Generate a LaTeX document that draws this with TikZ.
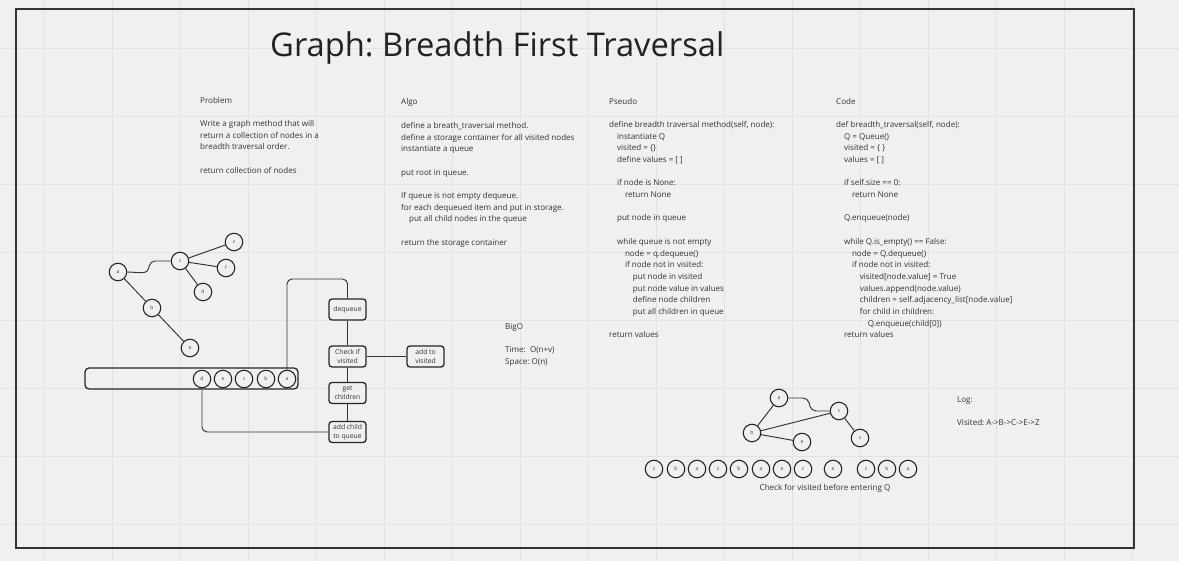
\documentclass[tikz,border=0pt]{standalone}
\usepackage{fontspec}
\setmainfont{Open Sans}
\frenchspacing
\definecolor{bgc}{RGB}{240,240,240}
\definecolor{gridc}{RGB}{226,226,226}
\definecolor{ink}{RGB}{51,51,51}
\definecolor{titlec}{RGB}{34,34,34}
\newcommand\myind[1]{\hspace*{#1\dimexpr 7.9pt\relax}}
\newcommand\blk[1]{\parbox[t]{330pt}{\fontsize{8.05}{11.67}\selectfont #1}}
\tikzset{
  edge/.style={draw=ink, line width=0.95pt},
  vtx/.style={circle, draw=black!85, line width=1.1pt, fill=bgc, minimum size=17.5pt, inner sep=0pt, font=\fontsize{5}{5}\selectfont, text=black!75},
  stepbox/.style={draw=black!85, line width=1.3pt, rounded corners=3pt, fill=bgc, minimum width=37pt, minimum height=21pt, inner sep=1pt, align=center, font=\fontsize{6.8}{8.6}\selectfont, text=ink},
  txt/.style={anchor=base west, inner sep=0pt, text=ink},
}
\begin{document}
\begin{tikzpicture}[x=1pt,y=-1pt]
\useasboundingbox (0,0) rectangle (1179,561);
\fill[bgc] (0,0) rectangle (1179,561);
% grid
\foreach \gx in {44,112,...,1179} \draw[gridc, line width=0.8pt] (\gx,0) -- (\gx,561);
\foreach \gy in {48,116,...,561} \draw[gridc, line width=0.8pt] (0,\gy) -- (1179,\gy);
% frame
\draw[black!80, line width=1.3pt] (16,9) rectangle (1134,548);
% title
\node[txt, text=titlec, font=\fontsize{32.7}{36}\selectfont] (title) at (270,57) {Graph: Breadth First Traversal};

% text blocks
\node[txt] (problem) at (200,103.3) {\blk{Problem\\ \mbox{}\\
Write a graph method that will\\
return a collection of nodes in a\\
breadth traversal order.\\ \mbox{}\\
return collection of nodes}};

\node[txt] (algo) at (401,105) {\blk{Algo\\ \mbox{}\\
define a breath\_traversal method.\\
define a storage container for all visited nodes\\
instantiate a queue\\ \mbox{}\\
put root in queue.\\ \mbox{}\\
If queue is not empty dequeue.\\
for each dequeued item and put in storage.\\
\myind{1}put all child nodes in the queue\\ \mbox{}\\
return the storage container}};

\node[txt] (pseudo) at (609,104.3) {\blk{Pseudo\\ \mbox{}\\
define breadth traversal method(self, node):\\
\myind{1}instantiate Q\\
\myind{1}visited = \{\}\\
\myind{1}define values = [ ]\\ \mbox{}\\
\myind{1}if node is None:\\
\myind{2}return None\\ \mbox{}\\
\myind{1}put node in queue\\ \mbox{}\\
\myind{1}while queue is not empty\\
\myind{2}node = q.dequeue()\\
\myind{2}if node not in visited:\\
\myind{3}put node in visited\\
\myind{3}put node value in values\\
\myind{3}define node children\\
\myind{3}put all children in queue\\ \mbox{}\\
return values}};

\node[txt] (code) at (836,104.3) {\blk{Code\\ \mbox{}\\
def breadth\_traversal(self, node):\\
\myind{1}Q = Queue()\\
\myind{1}visited = \{ \}\\
\myind{1}values = [ ]\\ \mbox{}\\
\myind{1}if self.size == 0:\\
\myind{2}return None\\ \mbox{}\\
\myind{1}Q.enqueue(node)\\ \mbox{}\\
\myind{1}while Q.is\_empty() == False:\\
\myind{2}node = Q.dequeue()\\
\myind{2}if node not in visited:\\
\myind{3}visited[node.value] = True\\
\myind{3}values.append(node.value)\\
\myind{3}children = self.adjacency\_list[node.value]\\
\myind{3}for child in children:\\
\myind{4}Q.enqueue(child[0])\\
\myind{1}return values}};

\node[txt] (bigo) at (505,329.3) {\blk{BigO\\ \mbox{}\\
Time:\ \ O(n+v)\\
Space: O(n)}};

\node[txt] (log) at (957,402.3) {\blk{Log:\\ \mbox{}\\
Visited: A->B->C->E->Z}};

\node[anchor=base, inner sep=0pt, text=ink, font=\fontsize{8.05}{10}\selectfont] (check) at (825,490.3) {Check for visited before entering Q};

% left graph
\node[vtx] (la) at (118,272) {a};
\node[vtx] (lc) at (180,261) {c};
\node[vtx] (lz) at (234,242) {z};
\node[vtx] (lf) at (226,268) {f};
\node[vtx] (ld) at (203,292) {d};
\node[vtx] (lb) at (152,308) {b};
\node[vtx] (le) at (190,348) {e};
\coordinate (lk1) at (148,273);
\coordinate (lk2) at (150,261);
\draw[edge, rounded corners=5pt] (la.east) -- (lk1) -- (lk2) -- (lc.west);
\draw[edge] (lc) -- (lz);
\draw[edge] (lc) -- (lf);
\draw[edge] (lc) -- (ld);
\draw[edge] (la) -- (lb);
\draw[edge] (lb) -- (le);

% queue
\node[draw=black!85, line width=1.3pt, rounded corners=4pt, minimum width=213pt, minimum height=21pt, inner sep=0pt] (queue) at (191.5,378.5) {};
\node[vtx] (qd) at (202,379) {d};
\node[vtx] (qe) at (223,379) {e};
\node[vtx] (qc) at (244,379) {c};
\node[vtx] (qb) at (266,379) {b};
\node[vtx] (qa) at (287,379) {a};

% flowchart
\node[stepbox] (deq) at (347.5,309.5) {dequeue};
\node[stepbox] (chk) at (347.5,356.5) {Check if\\visited};
\node[stepbox] (addv) at (425.5,356.5) {add to\\visited};
\node[stepbox] (getc) at (347.5,393) {get\\children};
\node[stepbox] (addc) at (347.5,432) {add child\\to queue};
\coordinate (qk1) at (287,279);
\coordinate (qk2) at (347.5,279);
\draw[edge, rounded corners=5pt] (qa.north) -- (qk1) -- (qk2) -- (deq.north);
\draw[edge] (deq) -- (chk);
\draw[edge] (chk) -- (addv);
\draw[edge] (chk) -- (getc);
\draw[edge] (getc) -- (addc);
\coordinate (ak1) at (202,432);
\draw[edge, rounded corners=5pt] (addc.west) -- (ak1) -- (qd |- queue.south);

% right graph
\node[vtx] (ra) at (779,398) {a};
\node[vtx] (rc) at (839,411) {c};
\node[vtx] (rb) at (752,433) {b};
\node[vtx] (re) at (802,442) {e};
\node[vtx] (rz) at (860,438) {z};
\coordinate (rk1) at (808,398);
\coordinate (rk2) at (811,411);
\draw[edge, rounded corners=5pt] (ra.east) -- (rk1) -- (rk2) -- (rc.west);
\draw[edge] (ra) -- (rb);
\draw[edge] (rb) -- (rc);
\draw[edge] (rb) -- (re);
\draw[edge] (rc) -- (rz);

% row of visited circles
\foreach \px/\lab [count=\i] in {654/z,676/b,697/a,718/z,739/b,761/a,782/e,803/c,833/e,866/c,887/b,908/a}
  \node[vtx] (row\i) at (\px,469) {\lab};
\end{tikzpicture}
\end{document}
